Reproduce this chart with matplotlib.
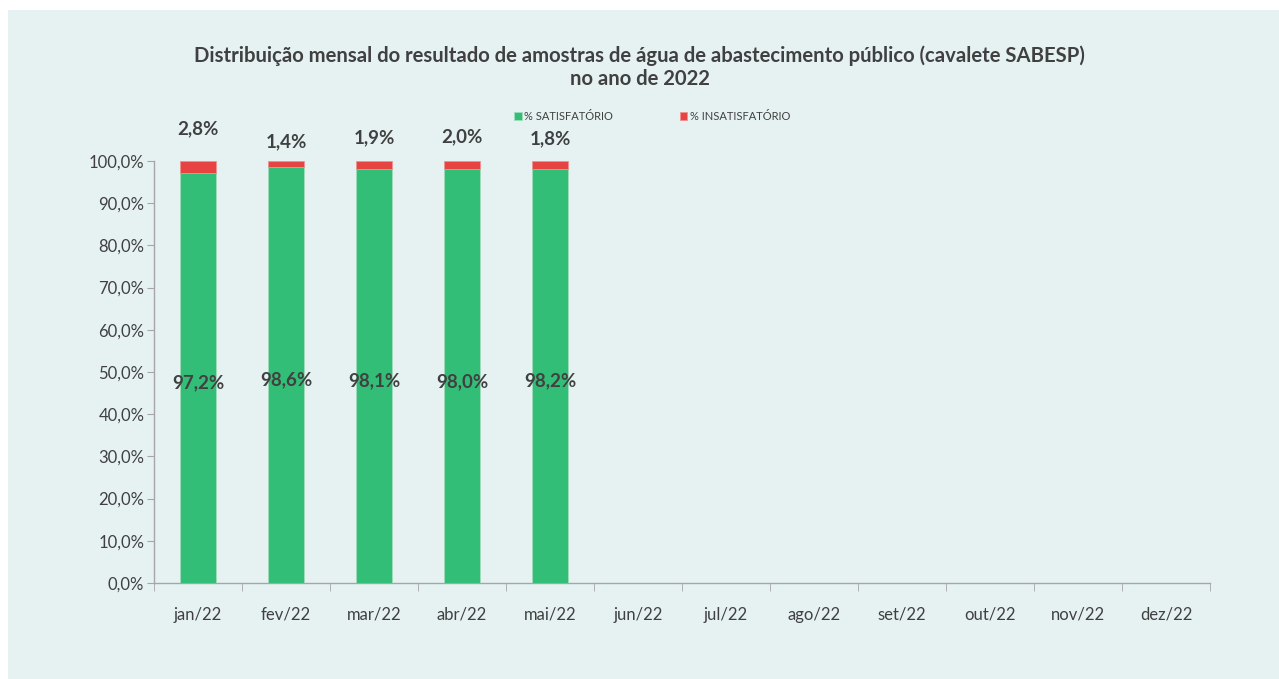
import matplotlib
matplotlib.use("Agg")
import matplotlib.pyplot as plt
from matplotlib.patches import Rectangle
import numpy as np

months = ["jan/22", "fev/22", "mar/22", "abr/22", "mai/22", "jun/22",
          "jul/22", "ago/22", "set/22", "out/22", "nov/22", "dez/22"]
satisf = [97.2, 98.6, 98.1, 98.0, 98.2]
insatisf = [2.8, 1.4, 1.9, 2.0, 1.8]
yticks = [0, 10, 20, 30, 40, 50, 60, 70, 80, 90, 100]

GREEN = "#33BE78"
RED = "#E84343"
TXT = "#404040"
BG = "#E6F2F2"
FONT = ["Lato", "DejaVu Sans"]

plt.rcParams['font.family'] = FONT

fig = plt.figure(figsize=(12.79, 6.79), dpi=100)
fig.patch.set_facecolor("white")
fig.patches.append(Rectangle((8/1279, 0), 1 - 8/1279, 1 - 10/679,
                             transform=fig.transFigure, facecolor=BG,
                             edgecolor="none", zorder=-10))

ax = fig.add_axes([154/1279, 1 - 583/679, (1210-154)/1279, (583-161)/679])
ax.set_facecolor("none")

x = np.arange(len(satisf))
w = 0.41
ax.bar(x, satisf, w, color=GREEN, edgecolor="#9EDCBC", linewidth=0.6,
       label="% SATISFATÓRIO", zorder=3)
ax.bar(x, insatisf, w, bottom=satisf, color=RED, edgecolor="#F09090",
       linewidth=0.6, label="% INSATISFATÓRIO", zorder=3)

for xi, s, i in zip(x, satisf, insatisf):
    ax.text(xi, s / 2 - 1.2, f"{s:.1f}%".replace(".", ","), ha="center",
            va="center", fontsize=13.5, fontweight="bold", color=TXT, zorder=5)
    ax.text(xi, 105.6 + (i - 1.9) * 2.2, f"{i:.1f}%".replace(".", ","),
            ha="center", va="center", fontsize=13.5, fontweight="bold",
            color=TXT, clip_on=False)

ax.set_xlim(-0.5, len(months) - 0.5)
ax.set_ylim(0, 100)
ax.set_yticks(yticks)
ax.set_yticklabels([f"{v:.1f}%".replace(".", ",") for v in yticks],
                   fontsize=12, color=TXT)
ax.set_xticks(np.arange(len(months)))
ax.set_xticklabels(months, fontsize=12, color=TXT)
ax.set_xticks(np.arange(len(months) + 1) - 0.5, minor=True)
ax.tick_params(axis="x", which="major", length=0, pad=17)
ax.tick_params(axis="x", which="minor", length=6, color="#A6A6A6",
               direction="out")
ax.tick_params(axis="y", length=5, color="#A6A6A6", direction="out", pad=2)

for s in ["top", "right"]:
    ax.spines[s].set_visible(False)
for s in ["left", "bottom"]:
    ax.spines[s].set_color("#A6A6A6")
    ax.spines[s].set_linewidth(1.0)

fig.text(0.5, 1 - 56/679,
         "Distribuição mensal do resultado de amostras de água de abastecimento público (cavalete SABESP)",
         ha="center", va="center", fontsize=14.6, fontweight="bold", color=TXT)
fig.text(0.5, 1 - 79/679, "no ano de 2022", ha="center", va="center",
         fontsize=14.6, fontweight="bold", color=TXT)

leg = fig.legend(loc="center", bbox_to_anchor=(652/1279, 1 - 116/679),
                 ncol=2, frameon=False, fontsize=8, handlelength=0.7,
                 handleheight=0.7, handletextpad=0.2, columnspacing=6.0)
for t in leg.get_texts():
    t.set_color(TXT)

fig.savefig("out.png", dpi=100, facecolor=fig.get_facecolor())
